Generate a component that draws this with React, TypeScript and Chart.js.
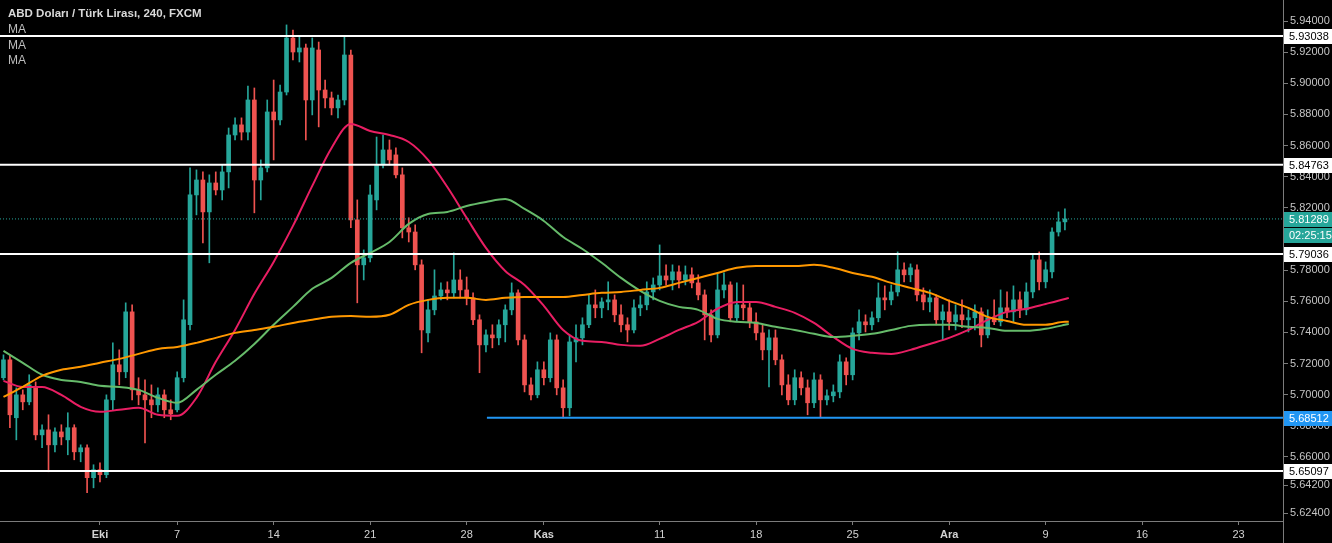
import React, { useEffect, useRef } from 'react';
import { Chart, registerables } from 'chart.js';

Chart.register(...registerables);

// ---------- texts ----------
const title = 'ABD Doları / Türk Lirası, 240, FXCM';
const maLabels = ['MA', 'MA', 'MA'];

// ---------- x axis (trading days, Oct 1 = 0) ----------
const xTickDays = [0, 4, 9, 14, 19, 23, 29, 34, 39, 44, 49, 54, 59];
const xTickLabels = ['Eki', '7', '14', '21', '28', 'Kas', '11', '18', '25', 'Ara', '9', '16', '23'];
const monthLabels = ['Eki', 'Kas', 'Ara'];
const xMin = -5.18;
const xMax = 61.3;

// ---------- y axis ----------
const yTickValues = [5.94, 5.92, 5.9, 5.88, 5.86, 5.84, 5.82, 5.78, 5.76, 5.74, 5.72, 5.7, 5.68, 5.66, 5.642, 5.624];
const yMin = 5.61888;
const yMax = 5.9535;

// ---------- candles (3 per trading day) ----------
const firstCandleDay = -5;
const candlesPerDay = 3;

const opens = [
  5.7109, 5.7224, 5.6852, 5.6999, 5.6954, 5.7050, 5.6742, 5.6774, 5.6678, 5.6761,
  5.6710, 5.6788, 5.6633, 5.6659, 5.6467, 5.6518, 5.6486, 5.6967, 5.7192, 5.7147,
  5.7532, 5.7031, 5.6999, 5.6967, 5.6935, 5.6999, 5.6903, 5.6903, 5.7109, 5.7449,
  5.8283, 5.8379, 5.8174, 5.8360, 5.8315, 5.8431, 5.8668, 5.8733, 5.8687, 5.8893,
  5.8379, 5.8457, 5.8816, 5.8765, 5.8944, 5.9291, 5.9201, 5.9227, 5.8893, 5.9214,
  5.8957, 5.8906, 5.8842, 5.8893, 5.9182, 5.8123, 5.7834, 5.7879, 5.8251, 5.8476,
  5.8572, 5.8540, 5.8412, 5.8072, 5.8045, 5.7834, 5.7397, 5.7545, 5.7634, 5.7673,
  5.7654, 5.7737, 5.7673, 5.7622, 5.7481, 5.7320, 5.7384, 5.7365, 5.7449, 5.7545,
  5.7654, 5.7352, 5.7063, 5.6999, 5.7160, 5.7109, 5.7352, 5.7044, 5.6916, 5.7339,
  5.7365, 5.7449, 5.7577, 5.7558, 5.7596, 5.7609, 5.7513, 5.7449, 5.7416, 5.7558,
  5.7577, 5.7660, 5.7705, 5.7763, 5.7737, 5.7789, 5.7737, 5.7770, 5.7718, 5.7641,
  5.7513, 5.7384, 5.7673, 5.7705, 5.7494, 5.7577, 5.7558, 5.7468, 5.7397, 5.7288,
  5.7365, 5.7224, 5.7063, 5.6967, 5.7109, 5.7044, 5.6948, 5.7095, 5.6967, 5.6993,
  5.7018, 5.7211, 5.7128, 5.7397, 5.7468, 5.7449, 5.7494, 5.7622, 5.7609, 5.7660,
  5.7802, 5.7770, 5.7802, 5.7641, 5.7596, 5.7622, 5.7481, 5.7532, 5.7468, 5.7513,
  5.7481, 5.7494, 5.7532, 5.7384, 5.7494, 5.7468, 5.7558, 5.7532, 5.7609, 5.7545,
  5.7660, 5.7866, 5.7725, 5.7789, 5.8045, 5.8110,
];

const highs = [
  5.7256, 5.7256, 5.7044, 5.7031, 5.7128, 5.7082, 5.6807, 5.6871, 5.6788, 5.6807,
  5.6884, 5.6807, 5.6678, 5.6678, 5.6550, 5.6563, 5.6999, 5.7333, 5.7288, 5.7590,
  5.7577, 5.7109, 5.7095, 5.7063, 5.7044, 5.7031, 5.6967, 5.7147, 5.7609, 5.8457,
  5.8444, 5.8431, 5.8412, 5.8431, 5.8476, 5.8713, 5.8778, 5.8778, 5.8982, 5.8970,
  5.8508, 5.8893, 5.9021, 5.8989, 5.9375, 5.9342, 5.9304, 5.9252, 5.9291, 5.9265,
  5.9021, 5.8944, 5.8925, 5.9304, 5.9214, 5.8251, 5.7930, 5.8347, 5.8655, 5.8668,
  5.8636, 5.8585, 5.8457, 5.8136, 5.8091, 5.7866, 5.7609, 5.7802, 5.7718, 5.7725,
  5.7911, 5.7802, 5.7756, 5.7654, 5.7513, 5.7416, 5.7449, 5.7481, 5.7577, 5.7718,
  5.7673, 5.7384, 5.7109, 5.7211, 5.7211, 5.7397, 5.7384, 5.7095, 5.7384, 5.7449,
  5.7494, 5.7641, 5.7673, 5.7622, 5.7725, 5.7641, 5.7577, 5.7494, 5.7609, 5.7634,
  5.7725, 5.7750, 5.7962, 5.7834, 5.7834, 5.7827, 5.7827, 5.7815, 5.7770, 5.7673,
  5.7545, 5.7783, 5.7783, 5.7725, 5.7718, 5.7705, 5.7590, 5.7526, 5.7449, 5.7416,
  5.7416, 5.7256, 5.7128, 5.7160, 5.7147, 5.7095, 5.7141, 5.7128, 5.7031, 5.7063,
  5.7256, 5.7237, 5.7429, 5.7545, 5.7513, 5.7532, 5.7718, 5.7699, 5.7705, 5.7917,
  5.7847, 5.7840, 5.7834, 5.7686, 5.7673, 5.7641, 5.7577, 5.7609, 5.7577, 5.7609,
  5.7545, 5.7577, 5.7558, 5.7545, 5.7609, 5.7673, 5.7660, 5.7699, 5.7660, 5.7718,
  5.7898, 5.7917, 5.7853, 5.8072, 5.8174, 5.8193,
];

const lows = [
  5.7095, 5.6788, 5.6710, 5.6903, 5.6935, 5.6710, 5.6659, 5.6505, 5.6633, 5.6678,
  5.6614, 5.6582, 5.6569, 5.6370, 5.6402, 5.6440, 5.6467, 5.6903, 5.7063, 5.7109,
  5.6967, 5.6935, 5.6691, 5.6852, 5.6890, 5.6852, 5.6839, 5.6890, 5.7082, 5.7416,
  5.8155, 5.7975, 5.7847, 5.8283, 5.8251, 5.8328, 5.8636, 5.8636, 5.8636, 5.8168,
  5.8251, 5.8431, 5.8508, 5.8733, 5.8925, 5.9150, 5.9137, 5.8636, 5.8797, 5.8720,
  5.8842, 5.8797, 5.8778, 5.8861, 5.8072, 5.7590, 5.7737, 5.7853, 5.8187, 5.8457,
  5.8476, 5.8393, 5.8007, 5.7981, 5.7802, 5.7269, 5.7339, 5.7513, 5.7609, 5.7609,
  5.7622, 5.7622, 5.7577, 5.7449, 5.7141, 5.7275, 5.7301, 5.7320, 5.7339, 5.7513,
  5.7320, 5.7018, 5.6967, 5.6980, 5.7063, 5.7082, 5.6999, 5.68512, 5.6864, 5.7211,
  5.7320, 5.7430, 5.7494, 5.7494, 5.7545, 5.7468, 5.7403, 5.7339, 5.7397, 5.7507,
  5.7545, 5.7609, 5.7673, 5.7705, 5.7673, 5.7686, 5.7705, 5.7686, 5.7609, 5.7352,
  5.7339, 5.7365, 5.7622, 5.7468, 5.7468, 5.7481, 5.7430, 5.7352, 5.7224, 5.7050,
  5.7192, 5.6999, 5.6935, 5.6935, 5.6999, 5.6871, 5.6916, 5.6852, 5.6935, 5.6954,
  5.6980, 5.7063, 5.7095, 5.7352, 5.7403, 5.7416, 5.7468, 5.7545, 5.7577, 5.7634,
  5.7725, 5.7725, 5.7603, 5.7545, 5.7532, 5.7449, 5.7352, 5.7416, 5.7416, 5.7430,
  5.7403, 5.7416, 5.7307, 5.7365, 5.7449, 5.7442, 5.7494, 5.7468, 5.7494, 5.7513,
  5.7622, 5.7673, 5.7686, 5.7750, 5.8019, 5.8058,
];

const closes = [
  5.7224, 5.6871, 5.6999, 5.6954, 5.7063, 5.6742, 5.6774, 5.6678, 5.6761, 5.6729,
  5.6788, 5.6633, 5.6659, 5.6467, 5.6518, 5.6486, 5.6967, 5.7192, 5.7147, 5.7532,
  5.7031, 5.6999, 5.6967, 5.6935, 5.6999, 5.6903, 5.6877, 5.7109, 5.7481, 5.8283,
  5.8379, 5.8174, 5.8360, 5.8315, 5.8431, 5.8668, 5.8733, 5.8687, 5.8893, 5.8379,
  5.8457, 5.8816, 5.8765, 5.8944, 5.9291, 5.9201, 5.9227, 5.8893, 5.9227, 5.8957,
  5.8906, 5.8842, 5.8893, 5.9182, 5.8123, 5.7834, 5.7879, 5.8283, 5.8476, 5.8572,
  5.8508, 5.8412, 5.8072, 5.8045, 5.7834, 5.7416, 5.7545, 5.7634, 5.7673, 5.7654,
  5.7737, 5.7673, 5.7622, 5.7481, 5.7320, 5.7384, 5.7365, 5.7449, 5.7545, 5.7654,
  5.7352, 5.7063, 5.6999, 5.7160, 5.7109, 5.7352, 5.7044, 5.6916, 5.7339, 5.7365,
  5.7449, 5.7577, 5.7558, 5.7596, 5.7609, 5.7513, 5.7449, 5.7416, 5.7558, 5.7577,
  5.7660, 5.7705, 5.7763, 5.7737, 5.7789, 5.7737, 5.7770, 5.7718, 5.7641, 5.7513,
  5.7384, 5.7673, 5.7705, 5.7494, 5.7577, 5.7558, 5.7468, 5.7397, 5.7288, 5.7365,
  5.7224, 5.7063, 5.6967, 5.7109, 5.7044, 5.6948, 5.7095, 5.6967, 5.6993, 5.7018,
  5.7211, 5.7128, 5.7397, 5.7468, 5.7449, 5.7494, 5.7622, 5.7609, 5.7660, 5.7802,
  5.7770, 5.7815, 5.7641, 5.7596, 5.7622, 5.7481, 5.7532, 5.7468, 5.7513, 5.7481,
  5.7494, 5.7532, 5.7384, 5.7494, 5.7468, 5.7558, 5.7532, 5.7609, 5.7545, 5.7660,
  5.7866, 5.7725, 5.7802, 5.8045, 5.8110, 5.81289,
];

// ---------- moving averages (sampled per trading day) ----------
const maDays = [
  -5, -4, -3, -2, -1, 0, 1, 2, 3, 4,
  5, 6, 7, 8, 9, 10, 11, 12, 13, 14,
  15, 16, 17, 18, 19, 20, 21, 22, 23, 24,
  25, 26, 27, 28, 29, 30, 31, 32, 33, 34,
  35, 36, 37, 38, 39, 40, 41, 42, 43, 44,
  45, 46, 47, 48, 49, 50, 50.2,
];

const maFast = [
  5.7089, 5.7050, 5.7050, 5.6999, 5.6922, 5.6890, 5.6903, 5.6916, 5.6871, 5.6864,
  5.6980, 5.7211, 5.7416, 5.7648, 5.7853, 5.8084, 5.8341, 5.8585, 5.8739, 5.8694,
  5.8668, 5.8623, 5.8508, 5.8334, 5.8136, 5.7943, 5.7795, 5.7705, 5.7571, 5.7416,
  5.7346, 5.7339, 5.7320, 5.7314, 5.7359, 5.7416, 5.7468, 5.7552, 5.7596, 5.7596,
  5.7564, 5.7526, 5.7461, 5.7371, 5.7294, 5.7269, 5.7262, 5.7288, 5.7326, 5.7365,
  5.7416, 5.7481, 5.7532, 5.7552, 5.7583, 5.7615, 5.7622,
];

const maMid = [
  5.7282, 5.7205, 5.7128, 5.7095, 5.7082, 5.7057, 5.7050, 5.7031, 5.6980, 5.6948,
  5.7031, 5.7128, 5.7218, 5.7326, 5.7449, 5.7564, 5.7680, 5.7750, 5.7847, 5.7911,
  5.7981, 5.8097, 5.8161, 5.8174, 5.8212, 5.8238, 5.8257, 5.8193, 5.8116, 5.8013,
  5.7936, 5.7847, 5.7750, 5.7667, 5.7603, 5.7564, 5.7545, 5.7487, 5.7468, 5.7461,
  5.7436, 5.7416, 5.7391, 5.7371, 5.7378, 5.7391, 5.7416, 5.7442, 5.7449, 5.7449,
  5.7436, 5.7429, 5.7410, 5.7410, 5.7423, 5.7449, 5.7455,
];

const maSlow = [
  5.6986, 5.7050, 5.7121, 5.7160, 5.7179, 5.7205, 5.7230, 5.7262, 5.7294, 5.7307,
  5.7333, 5.7365, 5.7397, 5.7416, 5.7436, 5.7461, 5.7481, 5.7500, 5.7506, 5.7500,
  5.7513, 5.7577, 5.7609, 5.7622, 5.7622, 5.7609, 5.7622, 5.7628, 5.7628, 5.7628,
  5.7641, 5.7654, 5.7660, 5.7673, 5.7686, 5.7718, 5.7750, 5.7782, 5.7815, 5.7827,
  5.7827, 5.7827, 5.7834, 5.7815, 5.7782, 5.7757, 5.7718, 5.7686, 5.7654, 5.7603,
  5.7558, 5.7500, 5.7474, 5.7449, 5.7449, 5.7468, 5.7468,
];

// ---------- drawn levels ----------
const levelLines = [5.93038, 5.84763, 5.79036, 5.65097];
const supportLevel = 5.68512;
const supportStartDay = 20.05;
const lastPrice = 5.81289;
const countdown = '02:25:15';

// ---------- styles ----------
const FONT = '"Liberation Sans", Arial, sans-serif';
const UP = '#26a69a';
const DOWN = '#ef5350';
const BLUE = '#2196f3';
const AXIS = '#7b7b7b';
const TICK_TEXT = '#c4c4c4';

export default function App() {
  const ref = useRef<HTMLCanvasElement | null>(null);

  useEffect(() => {
    document.body.style.margin = '0';
    document.body.style.background = '#000';
    const canvas = ref.current;
    if (!canvas) return;

    const candleDay = (i: number) => firstCandleDay + i / candlesPerDay;
    const colors = closes.map((c, i) => (c >= opens[i] ? UP : DOWN));
    const hLine = (v: number, from: number = xMin) => [
      { x: from, y: v },
      { x: xMax, y: v },
    ];
    const maData = (arr: number[]) => maDays.map((d, i) => ({ x: d, y: arr[i] }));

    const overlay = {
      id: 'overlay',
      beforeDraw(chart: any) {
        const c = chart.ctx;
        c.save();
        c.fillStyle = '#000';
        c.fillRect(0, 0, chart.width, chart.height);
        c.restore();
      },
      afterDraw(chart: any) {
        const c = chart.ctx;
        const area = chart.chartArea;
        const y = chart.scales.y;
        const right = area.right;
        const W = chart.width;
        c.save();
        c.strokeStyle = AXIS;
        c.lineWidth = 1;
        c.beginPath();
        c.moveTo(Math.round(right) + 0.5, area.bottom);
        c.lineTo(Math.round(right) + 0.5, chart.height);
        c.stroke();

        const box = (value: number, text: string, bg: string, fg: string, offset = 0) => {
          const cy = Math.round(y.getPixelForValue(value)) + offset;
          const h = 15;
          c.fillStyle = bg;
          c.fillRect(Math.round(right) + 1, cy - 7, W - Math.round(right) - 1, h);
          c.fillStyle = fg;
          c.font = `11px ${FONT}`;
          c.textBaseline = 'middle';
          c.textAlign = 'left';
          c.fillText(text, right + 6, cy + 1);
        };
        levelLines.forEach((v) => box(v, v.toFixed(5), '#ffffff', '#000000'));
        box(supportLevel, supportLevel.toFixed(5), BLUE, '#ffffff');
        box(lastPrice, lastPrice.toFixed(5), UP, '#ffffff');
        box(lastPrice, countdown, UP, '#ffffff', 16);

        c.textAlign = 'left';
        c.textBaseline = 'middle';
        c.fillStyle = '#d8d8d8';
        c.font = `bold 11.5px ${FONT}`;
        c.fillText(title, 8, 14);
        c.font = `12px ${FONT}`;
        c.fillStyle = '#bdbdbd';
        maLabels.forEach((t, k) => c.fillText(t, 8, 30 + k * 15.5));
        c.restore();
      },
    };

    const chart = new Chart(canvas, {
      type: 'bar',
      data: {
        datasets: [
          // horizontal levels
          ...levelLines.map((v) => ({
            type: 'line',
            data: hLine(v),
            borderColor: '#ffffff',
            borderWidth: 2,
            pointRadius: 0,
            order: 0,
          })),
          {
            type: 'line',
            data: hLine(supportLevel, supportStartDay),
            borderColor: BLUE,
            borderWidth: 2,
            pointRadius: 0,
            order: 0,
          },
          {
            type: 'line',
            data: hLine(lastPrice),
            borderColor: UP,
            borderWidth: 1,
            borderDash: [1, 2],
            pointRadius: 0,
            order: 0,
          },
          // moving averages
          {
            type: 'line',
            data: maData(maSlow),
            borderColor: '#ff9800',
            borderWidth: 2,
            pointRadius: 0,
            cubicInterpolationMode: 'monotone',
            order: 1,
          },
          {
            type: 'line',
            data: maData(maMid),
            borderColor: '#66bb6a',
            borderWidth: 2,
            pointRadius: 0,
            cubicInterpolationMode: 'monotone',
            order: 1,
          },
          {
            type: 'line',
            data: maData(maFast),
            borderColor: '#e91e63',
            borderWidth: 2,
            pointRadius: 0,
            cubicInterpolationMode: 'monotone',
            order: 1,
          },
          // candle bodies
          {
            type: 'bar',
            data: opens.map((o, i) => ({ x: candleDay(i), y: [o, closes[i]] })),
            backgroundColor: colors,
            borderWidth: 0,
            barThickness: 4,
            minBarLength: 1,
            grouped: false,
            order: 5,
          },
          // wicks
          {
            type: 'bar',
            data: lows.map((l, i) => ({ x: candleDay(i), y: [l, highs[i]] })),
            backgroundColor: colors,
            borderWidth: 0,
            barThickness: 1,
            grouped: false,
            order: 6,
          },
        ] as any,
      },
      options: {
        responsive: false,
        animation: false,
        devicePixelRatio: 1,
        events: [],
        layout: { padding: 0 },
        plugins: { legend: { display: false }, tooltip: { enabled: false } },
        scales: {
          x: {
            type: 'linear',
            min: xMin,
            max: xMax,
            offset: false,
            grid: {
              display: true,
              drawOnChartArea: false,
              drawTicks: true,
              tickLength: 4,
              color: AXIS,
              offset: false,
            },
            border: { display: true, color: AXIS, width: 1 },
            ticks: {
              autoSkip: false,
              maxRotation: 0,
              padding: 3,
              color: '#d2d2d2',
              font: (ctx: any) => ({
                family: FONT,
                size: 11,
                weight:
                  ctx.tick && monthLabels.includes(xTickLabels[xTickDays.indexOf(ctx.tick.value)])
                    ? 'bold'
                    : 'normal',
              }),
              callback: (value: any) => {
                const k = xTickDays.indexOf(Number(value));
                return k >= 0 ? xTickLabels[k] : '';
              },
            },
            afterBuildTicks: (scale: any) => {
              scale.ticks = xTickDays.map((v) => ({ value: v }));
            },
            afterFit: (scale: any) => {
              scale.height = 22;
              scale.paddingLeft = 0;
              scale.paddingRight = 0;
            },
          },
          y: {
            type: 'linear',
            position: 'right',
            min: yMin,
            max: yMax,
            grid: {
              display: true,
              drawOnChartArea: false,
              drawTicks: true,
              tickLength: 5,
              color: AXIS,
            },
            border: { display: true, color: AXIS, width: 1 },
            ticks: {
              padding: 2,
              color: TICK_TEXT,
              font: { family: FONT, size: 11 },
              callback: (value: any) => Number(value).toFixed(5),
            },
            afterBuildTicks: (scale: any) => {
              scale.ticks = yTickValues.map((v) => ({ value: v }));
            },
            afterFit: (scale: any) => {
              scale.width = 49;
              scale.paddingTop = 0;
              scale.paddingBottom = 0;
            },
          },
        },
      } as any,
      plugins: [overlay],
    });

    return () => chart.destroy();
  }, []);

  return (
    <div style={{ width: 1332, height: 543, background: '#000' }}>
      <canvas ref={ref} width={1332} height={543} style={{ display: 'block' }} />
    </div>
  );
}
